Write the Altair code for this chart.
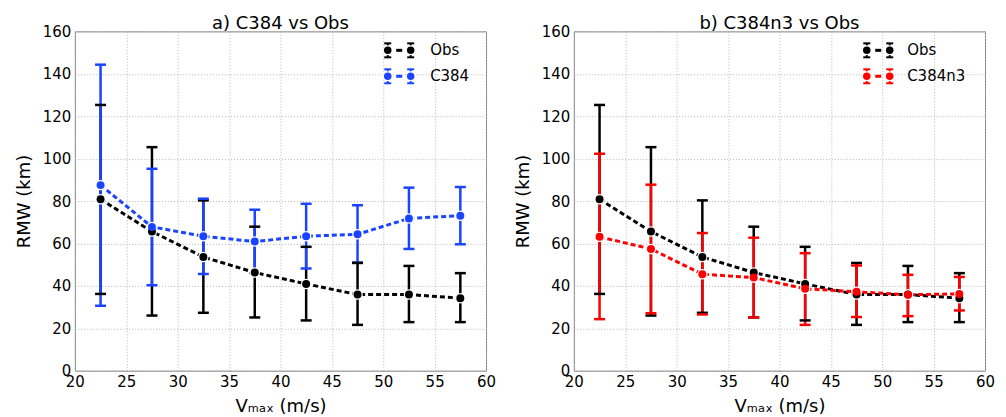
import altair as alt
import pandas as pd

# ---- data ----
vmax = [22.5, 27.5, 32.5, 37.5, 42.5, 47.5, 52.5, 57.5]

obs_mean = [80.8, 65.6, 53.6, 46.3, 40.9, 35.9, 35.9, 34.2]
obs_lo = [36.2, 26.0, 27.3, 25.1, 23.7, 21.6, 22.9, 22.9]
obs_hi = [125.3, 105.4, 80.3, 67.9, 58.4, 50.8, 49.4, 46.0]

c384_mean = [87.5, 67.8, 63.4, 60.9, 63.4, 64.3, 71.8, 73.1]
c384_lo = [30.6, 40.3, 45.6, 46.0, 48.2, 51.0, 57.4, 59.6]
c384_hi = [144.3, 95.2, 81.1, 75.9, 78.7, 78.0, 86.3, 86.6]

n3_mean = [63.1, 57.4, 45.5, 43.9, 38.6, 37.2, 35.8, 36.2]
n3_lo = [24.3, 27.1, 26.5, 25.1, 21.6, 25.3, 25.7, 28.4]
n3_hi = [102.3, 87.7, 64.9, 62.7, 55.4, 49.6, 45.2, 44.2]

x_ticks = [20, 25, 30, 35, 40, 45, 50, 55, 60]
y_ticks = [0, 20, 40, 60, 80, 100, 120, 140, 160]

FONT = "DejaVu Sans"
BLUE = "#1a44ff"
RED = "#ff0000"


def legend_layers(labels, colors, cx, label_x, y0, dy):
    """Legend entries drawn like matplotlib errorbar handles (pixel placement)."""
    layers = []
    half = 11.5   # half distance between the two markers
    bh = 7        # half height of the error bar
    cw = 3.5      # half width of the caps
    for i, (lab, c) in enumerate(zip(labels, colors)):
        cy = y0 + i * dy
        d1 = alt.Chart(pd.DataFrame({"label": [lab]}))
        for mx in (cx - half, cx + half):
            layers.append(d1.mark_rule(color=c, strokeWidth=2).encode(
                x=alt.value(mx), y=alt.value(cy - bh), y2=alt.value(cy + bh)))
            for yy in (cy - bh, cy + bh):
                layers.append(d1.mark_rule(color=c, strokeWidth=2).encode(
                    x=alt.value(mx - cw), x2=alt.value(mx + cw), y=alt.value(yy)))
            layers.append(d1.mark_point(filled=True, color="white", size=100, opacity=1).encode(
                x=alt.value(mx), y=alt.value(cy)))
            layers.append(d1.mark_point(filled=True, color=c, size=56, opacity=1).encode(
                x=alt.value(mx), y=alt.value(cy)))
        layers.append(d1.mark_rule(color=c, strokeWidth=3).encode(
            x=alt.value(cx - 3), x2=alt.value(cx + 3), y=alt.value(cy)))
        layers.append(d1.mark_text(align="left", baseline="middle", fontSize=15,
                                   font=FONT, color="#000000").encode(
            x=alt.value(label_x), y=alt.value(cy), text="label:N"))
    return layers


def panel(title, model_name, m_mean, m_lo, m_hi, model_color, leg_cx, leg_lx):
    n = len(vmax)
    df = pd.DataFrame({
        "v": vmax * 2,
        "series": ["Obs"] * n + [model_name] * n,
        "mean": obs_mean + m_mean,
        "lo": obs_lo + m_lo,
        "hi": obs_hi + m_hi,
    })
    dom = ["Obs", model_name]
    rng = ["#000000", model_color]
    xs = alt.Scale(domain=[20, 60], nice=False, zero=False)
    ys = alt.Scale(domain=[0, 160], nice=False)
    xax = alt.Axis(values=x_ticks, title="Vₘₐₓ (m/s)", labelFlush=False)
    yax = alt.Axis(values=y_ticks, title="RMW (km)")
    X = alt.X("v:Q", scale=xs, axis=xax)
    col = alt.Color("series:N", scale=alt.Scale(domain=dom, range=rng), legend=None)
    base = alt.Chart(df)

    bars = base.mark_rule(strokeWidth=2.5).encode(
        x=X, y=alt.Y("lo:Q", scale=ys, axis=yax), y2="hi:Q", color=col)
    cap_lo = base.mark_tick(orient="horizontal", size=11, thickness=2.5, opacity=1).encode(
        x=X, y=alt.Y("lo:Q", scale=ys, axis=yax), color=col)
    cap_hi = base.mark_tick(orient="horizontal", size=11, thickness=2.5, opacity=1).encode(
        x=X, y=alt.Y("hi:Q", scale=ys, axis=yax), color=col)
    line = base.mark_line(strokeWidth=3, strokeDash=[5, 3]).encode(
        x=X, y=alt.Y("mean:Q", scale=ys, axis=yax), color=col, detail="series:N")
    halo = base.mark_point(filled=True, color="white", size=110, opacity=1).encode(
        x=X, y=alt.Y("mean:Q", scale=ys, axis=yax))
    pts = base.mark_point(filled=True, size=64, opacity=1).encode(
        x=X, y=alt.Y("mean:Q", scale=ys, axis=yax), color=col)

    legend = legend_layers(dom, rng, leg_cx, leg_lx, 19, 26)
    return alt.layer(bars, cap_lo, cap_hi, line, halo, pts, *legend).properties(
        width=412, height=340,
        title=alt.TitleParams(title, fontSize=18, font=FONT, fontWeight="normal",
                              color="#000000", offset=-9),
    )


left = panel("a) C384 vs Obs", "C384", c384_mean, c384_lo, c384_hi, BLUE, 325, 356)
right = panel("b) C384n3 vs Obs", "C384n3", n3_mean, n3_lo, n3_hi, RED, 305, 334)

chart = alt.hconcat(left, right, spacing=88, bounds="flush").resolve_scale(
    color="independent"
).properties(
    padding={"left": 6, "top": 6, "right": 2, "bottom": 0}
).configure(font=FONT).configure_view(
    stroke="#808080", strokeWidth=1
).configure_axis(
    labelFontSize=15, labelColor="#000000", labelFont=FONT,
    titleFontSize=18, titleFontWeight="normal", titleColor="#000000", titleFont=FONT,
    grid=True, gridDash=[1, 2], gridColor="#b5b5b5", gridWidth=1,
    domain=False, ticks=False,
).configure_axisX(labelPadding=4, titlePadding=8).configure_axisY(labelPadding=4, titlePadding=9)

chart.save("out.html", embed_options={"renderer": "svg", "actions": False})
